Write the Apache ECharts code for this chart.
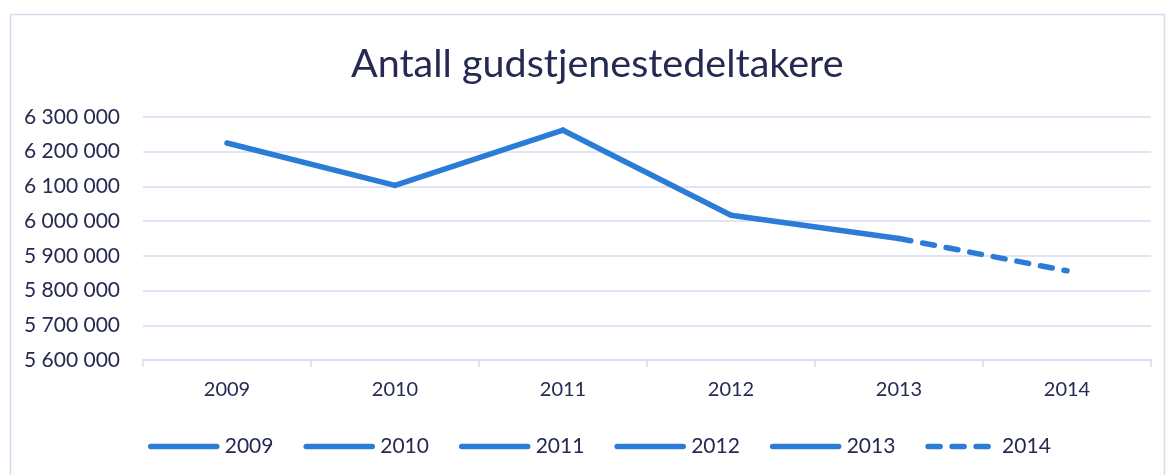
<!DOCTYPE html>
<html>
<head>
<meta charset="utf-8">
<script src="https://cdn.jsdelivr.net/npm/echarts@6/dist/echarts.min.js"></script>
<style>html,body{margin:0;padding:0;background:#fff}#c{width:1166px;height:475px}</style>
</head>
<body>
<div id="c"></div>
<script>
const titleText = 'Antall gudstjenestedeltakere';
const categories = ['2009', '2010', '2011', '2012', '2013', '2014'];
const values = [6225000, 6103000, 6262000, 6017000, 5950000, 5857000];
const yTicks = { min: 5600000, max: 6300000, interval: 100000 };

const lineColor = '#2b7cd6';
const textColor = '#262a52';
const gridColor = '#d9daef';
const dashPattern = [12, 12];

function fmt(v) { return String(v).replace(/\B(?=(\d{3})+(?!\d))/g, ' '); }
function isLast(i) { return i === categories.length - 1; }

const series = categories.map(function (name, i) {
  return {
    name: name,
    type: 'line',
    data: categories.map(function (c, j) { return (j === i || j === i - 1) ? values[j] : null; }),
    symbol: 'none',
    showSymbol: false,
    connectNulls: false,
    z: 3,
    lineStyle: { color: lineColor, width: 5.5, type: isLast(i) ? dashPattern : 'solid', cap: 'round', join: 'round' },
    itemStyle: { color: lineColor },
    emphasis: { disabled: true }
  };
});

const legendData = categories.map(function (name, i) {
  return {
    name: name,
    lineStyle: { color: lineColor, width: 5.5, type: isLast(i) ? [12, 12] : 'solid', cap: 'round' },
    itemStyle: { opacity: 0 }
  };
});

const chart = echarts.init(document.getElementById('c'), null, { renderer: 'canvas' });
chart.setOption({
  animation: false,
  backgroundColor: '#ffffff',
  textStyle: { fontFamily: 'Lato' },
  graphic: [{
    type: 'rect', left: 8, top: 12, z: -1, silent: true,
    shape: { width: 1154, height: 480 },
    style: { fill: 'none', stroke: gridColor, lineWidth: 1.5 }
  }],
  title: {
    text: titleText, left: 346, top: 39,
    textStyle: { fontFamily: 'Lato', fontSize: 39.5, fontWeight: 'normal', color: textColor }
  },
  legend: {
    data: legendData, left: 148, top: 436, padding: 0,
    itemWidth: 66, itemHeight: 14, itemGap: 30,
    textStyle: { fontFamily: 'Lato', fontSize: 21, color: textColor, padding: [0, 0, 0, 3] },
    lineStyle: { width: 5.5, cap: 'round' },
    itemStyle: { opacity: 0 },
    selectedMode: false
  },
  grid: { left: 143, right: 15, top: 117, bottom: 115, containLabel: false },
  xAxis: {
    type: 'category', data: categories, boundaryGap: true,
    axisLine: { lineStyle: { color: gridColor, width: 1.5 } },
    axisTick: { show: true, length: 7, lineStyle: { color: gridColor, width: 1.5 } },
    axisLabel: { fontFamily: 'Lato', fontSize: 20, color: textColor, margin: 20 }
  },
  yAxis: {
    type: 'value', min: yTicks.min, max: yTicks.max, interval: yTicks.interval,
    axisLine: { show: false }, axisTick: { show: false },
    splitLine: { lineStyle: { color: gridColor, width: 1.5 } },
    axisLabel: { fontFamily: 'Lato', fontSize: 21, color: textColor, margin: 23, formatter: fmt }
  },
  series: series
});
</script>
</body>
</html>
